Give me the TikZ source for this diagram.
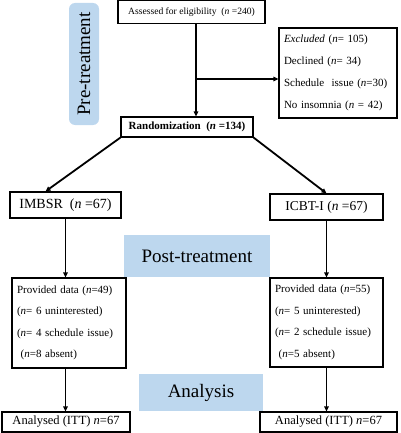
\documentclass[tikz,border=0pt]{standalone}
\usepackage{fontspec}
\setmainfont{Liberation Serif}
\usetikzlibrary{arrows.meta,calc}
\definecolor{phaseblue}{HTML}{BDD7EE}

\begin{document}
\begin{tikzpicture}[x=1pt, y=-1pt,
    box/.style={draw, line width=1.2pt, inner sep=5pt, font=\fontsize{11}{13}\selectfont},
    phase/.style={fill=phaseblue, inner sep=0pt, font=\fontsize{19}{22}\selectfont},
    arr/.style={-{Triangle[length=5pt, width=4.5pt]}, line width=1.8pt}]
      \useasboundingbox (0,0) rectangle (400,433);

      % Phases
      \node[phase, rounded corners=6pt, rotate=90, minimum width=122pt, minimum height=30pt] (pre) at (84, 64) {Pre-treatment};
      \node[phase, minimum width=146pt, minimum height=42pt] (post) at (197, 256) {Post-treatment};
      \node[phase, minimum width=124pt, minimum height=37pt] (analysis) at (201, 392.5) {Analysis};

      % Nodes
      \node[box, font=\fontsize{9.6}{12}\selectfont, minimum width=147pt, minimum height=23pt] (assess) at (191.5, 12) {Assessed for eligibility \ (\textit{n} =240)};
      \node[box, align=left, text width=108pt, minimum height=90pt, font=\fontsize{11}{22}\selectfont] (excl) at (338, 73) {\textit{Excluded} (\textit{n}= 105)\\ Declined (\textit{n}= 34)\\ Schedule \ issue (\textit{n}=30)\\ No insomnia (\textit{n} = 42)};
      \node[box, font=\bfseries\fontsize{11}{13}\selectfont, minimum width=132pt, minimum height=20pt] (rand) at (187, 127) {Randomization \ (\textit{n} =134)};
      \node[box, font=\fontsize{14}{16}\selectfont, minimum width=111pt, minimum height=26pt] (imbsr) at (65.5, 205) {IMBSR \ (\textit{n} =67)};
      \node[box, font=\fontsize{13.5}{16}\selectfont, minimum width=113pt, minimum height=26pt] (icbt) at (326.5, 207) {ICBT-I (\textit{n} =67)};
      \node[box, align=left, text width=104pt, minimum height=90pt, font=\fontsize{11}{21.5}\selectfont] (provL) at (69, 323) {Provided data (\textit{n}=49)\\ (\textit{n}= 6 uninterested)\\ (\textit{n}= 4 schedule issue)\\ \ (\textit{n}=8 absent)};
      \node[box, align=left, text width=103pt, minimum height=89pt, font=\fontsize{11}{21.5}\selectfont] (provR) at (326.5, 322.5) {Provided data (\textit{n}=55)\\ (\textit{n}= 5 uninterested)\\ (\textit{n}= 2 schedule issue)\\ \ (\textit{n}=5 absent)};
      \node[box, font=\fontsize{12.5}{14}\selectfont, inner sep=2pt, minimum width=128pt, minimum height=20pt] (anaL) at (66, 422) {Analysed (ITT) \textit{n}=67};
      \node[box, font=\fontsize{12.5}{14}\selectfont, inner sep=2pt, minimum width=137pt, minimum height=20pt] (anaR) at (328.5, 422) {Analysed (ITT) \textit{n}=67};

      % Edges
      \coordinate (split) at (196, 79);
      \draw[arr] (assess.south -| split) -- (rand.north -| split);
      \draw[arr] (split) -- (excl.west |- split);
      \draw[arr] (rand.south west) -- ($(imbsr.north)+(-20,0)$);
      \draw[arr] (rand.south east) -- (icbt.north);
      \draw[arr] (imbsr.south) -- (imbsr.south |- provL.north);
      \draw[arr] (icbt.south) -- (provR.north);
      \draw[arr] (provL.south -| imbsr.south) -- (anaL.north -| imbsr.south);
      \draw[arr] (provR.south) -- (provR.south |- anaR.north);
    \end{tikzpicture}
\end{document}
